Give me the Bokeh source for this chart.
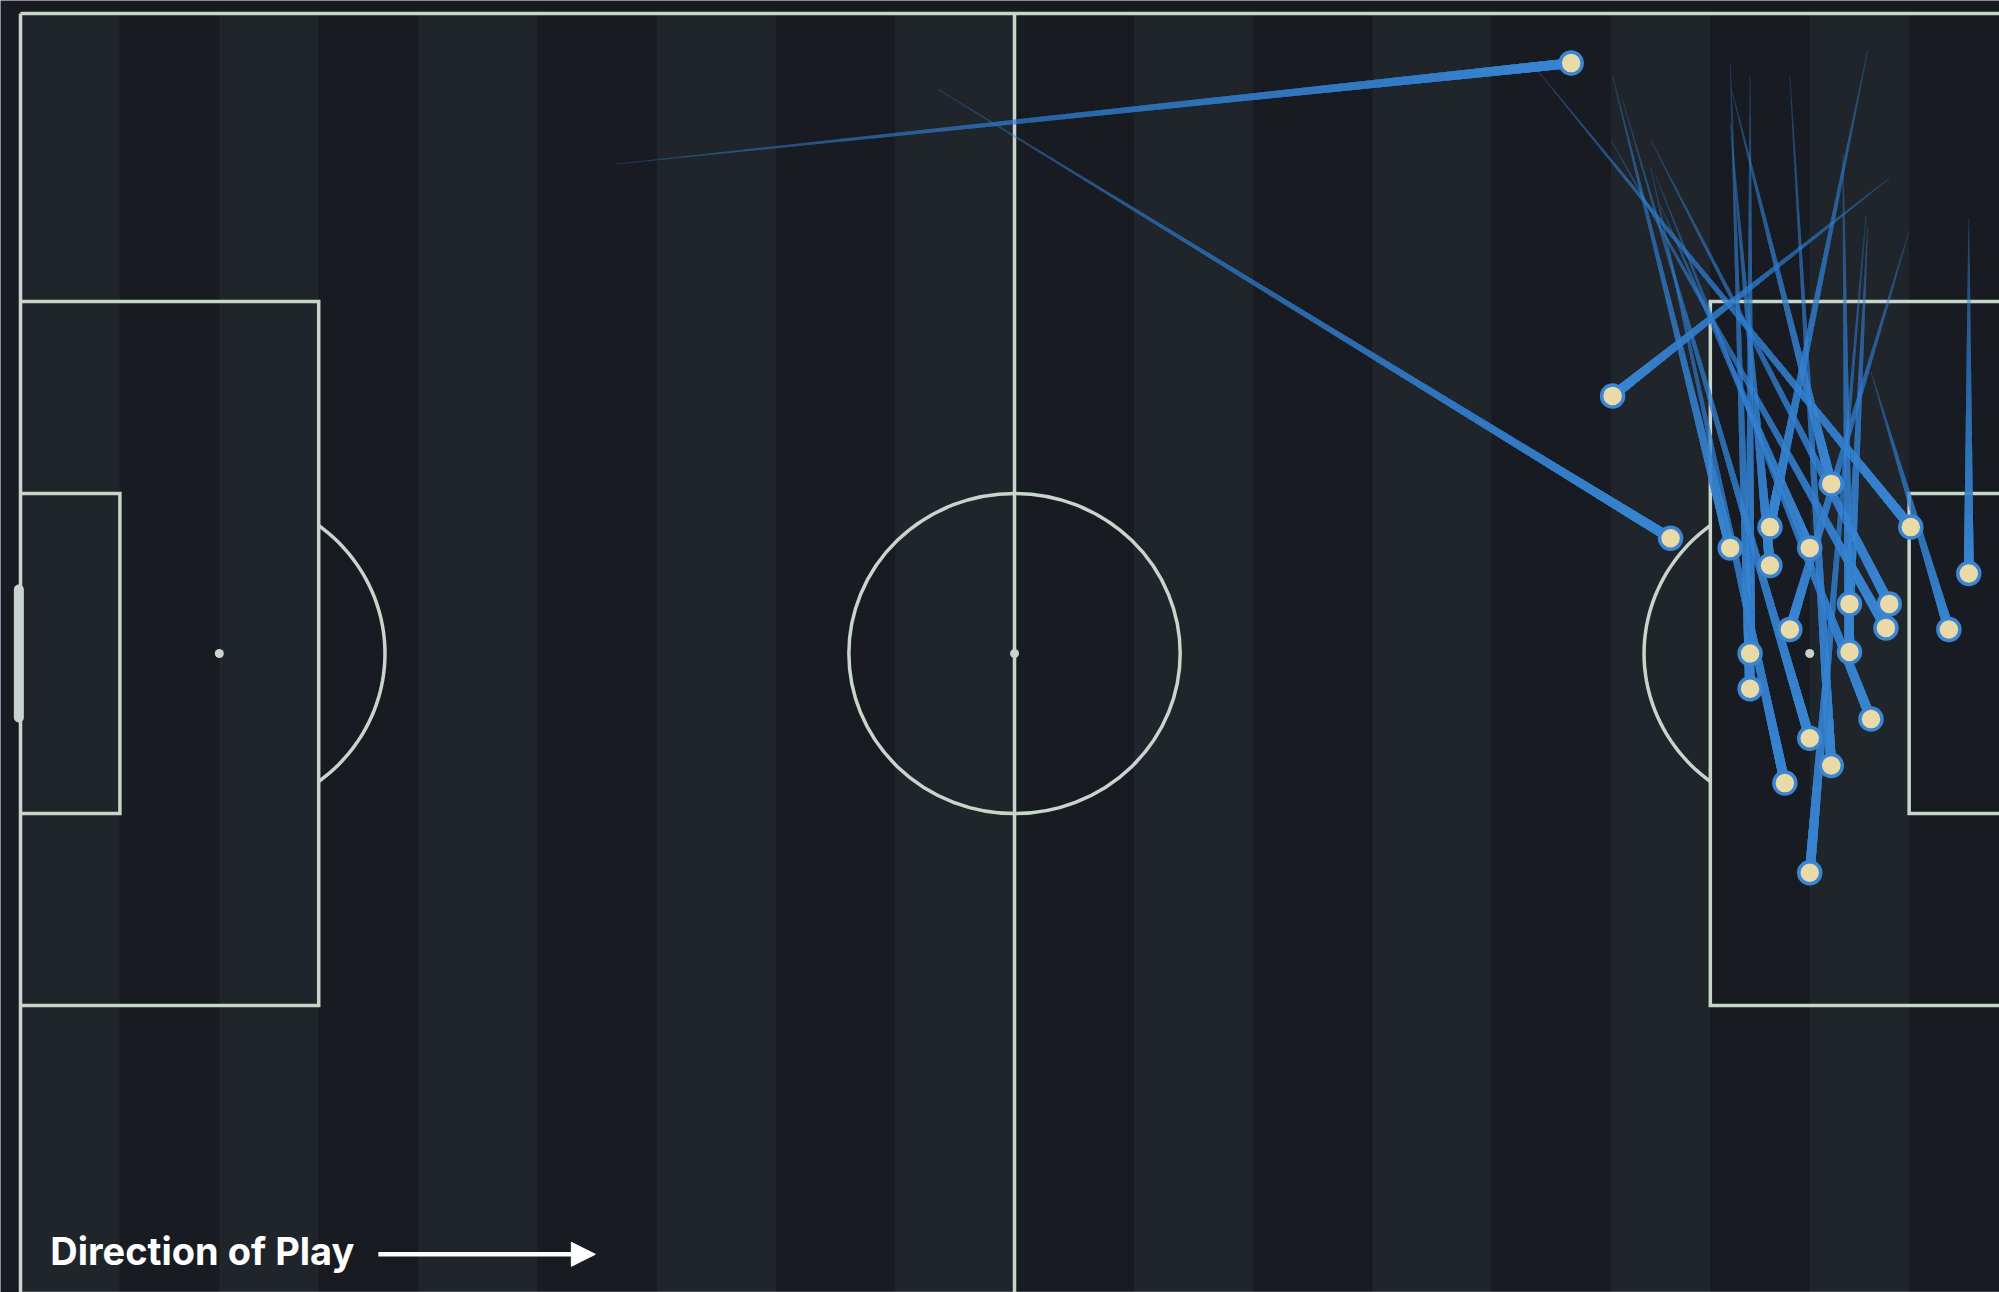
import numpy as np
from bokeh.plotting import figure
from bokeh.models import Range1d, Label, Arrow, NormalHead, ColumnDataSource
from bokeh.embed import file_html
from bokeh.resources import INLINE

# ---- pass data (StatsBomb pitch units, 120 x 80, y downwards) ----
pass_x_start = [36.0, 55.4, 112.8, 103.3, 111.5, 96.1, 103.2, 99.0, 91.6, 117.6, 111.5, 98.4,
                96.0, 111.7, 114.0, 104.4, 110.0, 103.2, 98.7, 96.7, 106.8, 98.4, 111.4]
pass_y_start = [9.4, 4.75, 10.3, 4.8, 2.3, 3.9, 6.9, 12.0, 3.6, 12.8, 13.3, 7.9,
                7.9, 22.4, 13.6, 3.9, 8.75, 3.1, 10.1, 5.4, 3.9, 9.6, 12.6]
pass_x_end = [93.6, 99.6, 96.1, 109.3, 105.6, 103.2, 105.6, 108.0, 114.1, 117.6, 110.4, 112.8,
              112.6, 116.4, 106.8, 104.4, 110.4, 104.4, 111.7, 108.0, 109.3, 106.5, 108.0]
pass_y_end = [3.1, 32.8, 23.9, 29.4, 32.1, 33.4, 34.5, 33.4, 32.1, 35.0, 36.9, 36.9,
              38.4, 38.5, 38.5, 40.0, 39.9, 42.2, 44.1, 45.3, 47.0, 48.1, 53.7]

# pitch stripe edges (pitch units)
stripe_edges = [0, 6, 12, 18, 24, 31.2, 38.4, 45.6, 52.8, 60, 67.2, 74.4, 81.6, 88.8, 96, 102, 108, 114, 120]

BG_DARK = "#181b22"
BG_LIGHT = "#1f252b"
LINE = "#c7d5cc"
PASS = "#3a86d2"
DOT = "#eadaa8"

W, H = 1999, 1292
SX, SY = 16.567, 16.0
x0 = -20 / SX
y0 = -13 / SY
p = figure(width=W, height=H, output_backend="svg", toolbar_location=None,
           x_range=Range1d(x0, x0 + W / SX),
           y_range=Range1d(y0 + H / SY, y0),
           min_border=0, background_fill_color=BG_DARK, border_fill_color=BG_DARK)
p.axis.visible = False
p.grid.visible = False
p.outline_line_color = None

# stripes
lefts = stripe_edges[:-1]
rights = stripe_edges[1:]
cols = [BG_LIGHT if i % 2 == 0 else BG_DARK for i in range(len(lefts))]
p.quad(left=lefts, right=rights, top=[0] * len(lefts), bottom=[80] * len(lefts),
       fill_color=cols, line_color=None)

# pitch markings
lw = 3.5
xs = [[0, 120, 120, 0, 0], [60, 60],
      [0, 18, 18, 0], [120, 102, 102, 120],
      [0, 6, 6, 0], [120, 114, 114, 120]]
ys = [[0, 0, 80, 80, 0], [0, 80],
      [18, 18, 62, 62], [18, 18, 62, 62],
      [30, 30, 50, 50], [30, 30, 50, 50]]
ang = np.arccos(6 / 10)
t = np.linspace(-ang, ang, 60)
xs.append(list(12 + 10 * np.cos(t))); ys.append(list(40 + 10 * np.sin(t)))
xs.append(list(108 - 10 * np.cos(t))); ys.append(list(40 + 10 * np.sin(t)))
p.multi_line(xs, ys, line_color=LINE, line_width=lw, line_join="miter")
p.ellipse(x=[60], y=[40], width=[20], height=[20], fill_color=None, line_color=LINE, line_width=lw)
p.scatter(x=[12, 60, 108], y=[40, 40, 40], size=9, fill_color=LINE, line_color=None)
p.segment(x0=[-0.1], y0=[36], x1=[-0.1], y1=[44], line_color=LINE, line_width=10, line_cap="round")

# comet passes: nested tapered polygons [t_k, 1] -> smooth width & alpha ramps
K = 30
tk = np.arange(K) / K
target = np.clip((tk + 1.0 / K) ** 0.4, 0.05, 0.985)
alphas = np.empty(K)
prev = 0.0
for k in range(K):
    alphas[k] = 1 - (1 - target[k]) / (1 - prev)
    prev = target[k]
W0, W1 = 1.0, 10.0  # px width at start / end


def half_w(tt):
    return (W0 + (W1 - W0) * tt) / 2.0


pxs, pys, pas = [], [], []
for xa, ya, xb, yb in zip(pass_x_start, pass_y_start, pass_x_end, pass_y_end):
    dxp, dyp = (xb - xa) * SX, (yb - ya) * SY
    L = np.hypot(dxp, dyp)
    nx, ny = -dyp / L / SX, dxp / L / SY
    for k in range(K):
        ta = tk[k]
        cxa, cya = xa + (xb - xa) * ta, ya + (yb - ya) * ta
        ha, hb = half_w(ta), half_w(1.0)
        pxs.append([cxa + nx * ha, xb + nx * hb, xb - nx * hb, cxa - nx * ha])
        pys.append([cya + ny * ha, yb + ny * hb, yb - ny * hb, cya - ny * ha])
        pas.append(alphas[k])
p.patches("xs", "ys", source=ColumnDataSource(dict(xs=pxs, ys=pys, a=pas)),
          fill_color=PASS, fill_alpha="a", line_color=None)

p.scatter(x=pass_x_end, y=pass_y_end, size=22, fill_color=DOT, line_color=PASS, line_width=3.5)

# direction of play
p.add_layout(Label(x=1.8, y=77.35, text="Direction of Play", text_color="white",
                   text_font="Inter", text_font_style="bold", text_font_size="38px",
                   text_baseline="middle"))
p.add_layout(Arrow(end=NormalHead(size=24, fill_color="white", line_color="white"),
                   x_start=21.6, y_start=77.55, x_end=34.7, y_end=77.55,
                   line_color="white", line_width=4.5))

html = file_html(p, INLINE)
html = html.replace("<body>", '<body style="background:%s">' % BG_DARK, 1)
open("out.html", "w").write(html)
